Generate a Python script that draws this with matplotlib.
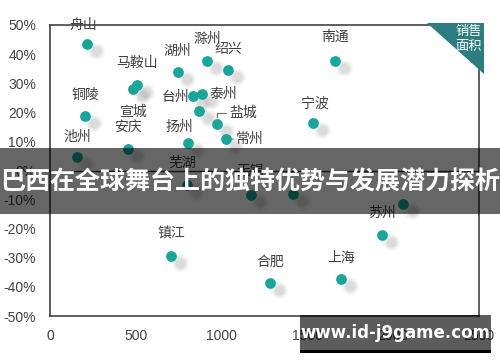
import matplotlib
matplotlib.use("Agg")
import matplotlib.pyplot as plt
import matplotlib.transforms as mtransforms
from matplotlib.patches import Rectangle, Polygon

# ---------------- data ----------------
cities = ["舟山", "马鞍山", "宣城", "湖州", "滁州", "绍兴", "台州", "泰州", "",
          "盐城", "常州", "扬州", "铜陵", "池州", "安庆", "南通", "宁波",
          "苏州", "", "镇江", "合肥", "上海", "无锡", "", "芜湖"]
sales_area = [216, 507, 484, 746, 915, 1037, 833, 886, 868,
              973, 1026, 804, 204, 157, 455, 1661, 1533,
              1935, 2057, 705, 1282, 1696, 1172, 1416, 800]
growth = [43.5, 29.4, 28.0, 33.8, 37.6, 34.5, 25.6, 26.3, 20.4,
          16.0, 10.8, 9.5, 18.7, 4.6, 7.4, 37.6, 16.3,
          -22.2, -11.5, -29.4, -38.7, -37.3, -8.4, -8.1, -5.0]
# label offsets in pixels (dx, dy; dy positive = up)
label_off = [(-4, 19), (0, 22), (0, -23), (-1, 21), (0, 22), (0, 21), (-17, -1), (21, 0), None,
             (26, 11), (24, 0), (-9, 16), (0, 21), (0, 20), (0, 21), (0, 24), (2, 19),
             (0, 22), None, (0, 23), (0, 21), (0, 21), (-1, 24), None, (-5, 22)]

x_ticks = [0, 500, 1000, 1500, 2000, 2500]
y_ticks = [-50, -40, -30, -20, -10, 0, 10, 20, 30, 40, 50]
title_text = "巴西在全球舞台上的独特优势与发展潜力探析"
corner_text = "销售\n面积"
watermark = "www.id-j9game.com"

CJK = ["Noto Sans CJK SC", "DejaVu Sans"]
TEAL = "#16a69a"

W, H = 500, 362
fig = plt.figure(figsize=(W / 100, H / 100), dpi=100)
fig.patch.set_facecolor("white")
ax = fig.add_axes([50 / W, 1 - 316 / H, 429 / W, 291 / H])
ax.set_xlim(0, 2500)
ax.set_ylim(-50, 50)

for s in ax.spines.values():
    s.set_color("#333333")
    s.set_linewidth(1.1)
ax.axhline(0, color="#333333", lw=1.0, zorder=1)

ax.set_xticks(x_ticks)
ax.set_xticklabels([str(v) for v in x_ticks])
ax.set_yticks(y_ticks)
ax.set_yticklabels([f"{v}%" for v in y_ticks])
ax.tick_params(length=0, labelsize=10, colors="#444444")
ax.tick_params(axis="y", pad=10)
ax.tick_params(axis="x", pad=9)
for lab in ax.get_xticklabels() + ax.get_yticklabels():
    lab.set_fontfamily("Liberation Sans")

# shadows (blurred grey, offset to lower right)
shadow_tr = mtransforms.offset_copy(ax.transData, fig=fig, x=9, y=-7, units="dots")
for size, alpha in [(160, 0.06), (115, 0.08), (80, 0.11), (48, 0.14)]:
    ax.scatter(sales_area, growth, s=size, color="#999999", alpha=alpha,
               linewidths=0, transform=shadow_tr, zorder=2)
ax.scatter(sales_area, growth, s=60, color=TEAL, linewidths=0, zorder=3)

# labels
for name, xv, yv, off in zip(cities, sales_area, growth, label_off):
    if not name or off is None:
        continue
    kw = dict(xy=(xv, yv), xytext=off, textcoords="offset pixels",
              ha="center", va="center", fontsize=10, color="#404040",
              family=CJK, zorder=4)
    if name == "盐城":
        ax.annotate(name, **kw,
                    arrowprops=dict(arrowstyle="-", color="#777777", lw=0.9,
                                    shrinkA=14, shrinkB=5,
                                    connectionstyle="angle,angleA=0,angleB=90,rad=0"))
    elif name == "常州":
        ax.annotate(name, **kw,
                    arrowprops=dict(arrowstyle="-", color="#777777", lw=0.9,
                                    shrinkA=13, shrinkB=4))
    elif name == "宣城":
        ax.annotate(name, **kw,
                    arrowprops=dict(arrowstyle="-", color="#777777", lw=0.9,
                                    shrinkA=9, shrinkB=3))
    else:
        ax.annotate(name, **kw)

# corner triangle
tri = Polygon([(427 / W, 1 - 23 / H), (484 / W, 1 - 23 / H), (484 / W, 1 - 74 / H)],
              closed=True, transform=fig.transFigure, facecolor="#2b7d80",
              edgecolor="none", zorder=10)
fig.patches.append(tri)
fig.text(482 / W, 1 - 39 / H, corner_text, ha="right", va="center", color="white",
         fontsize=9.5, family=CJK, linespacing=1.15, zorder=11)

# title banner
fig.patches.append(Rectangle((0, 1 - 214 / H), 1, 66 / H, transform=fig.transFigure,
                             facecolor="black", alpha=0.6, edgecolor="none", zorder=20))
fig.text(0.5, 1 - 182 / H, title_text, ha="center", va="center", color="white",
         fontsize=18, fontweight="bold", family=CJK, zorder=21)

# watermark
fig.patches.append(Rectangle((300 / W, 1 - 350 / H), 191 / W, 35 / H,
                             transform=fig.transFigure, facecolor="black",
                             alpha=0.64, edgecolor="none", zorder=20))
fig.patches.append(Rectangle((300 / W, 1 - 353 / H), 191 / W, 3 / H,
                             transform=fig.transFigure, facecolor="black",
                             edgecolor="none", zorder=20))
fig.text(395 / W, 1 - 333 / H, watermark, ha="center", va="center", color="white",
         fontsize=12, fontweight="bold", family=["DejaVu Sans"], zorder=21)

fig.savefig("out.png", dpi=100)
